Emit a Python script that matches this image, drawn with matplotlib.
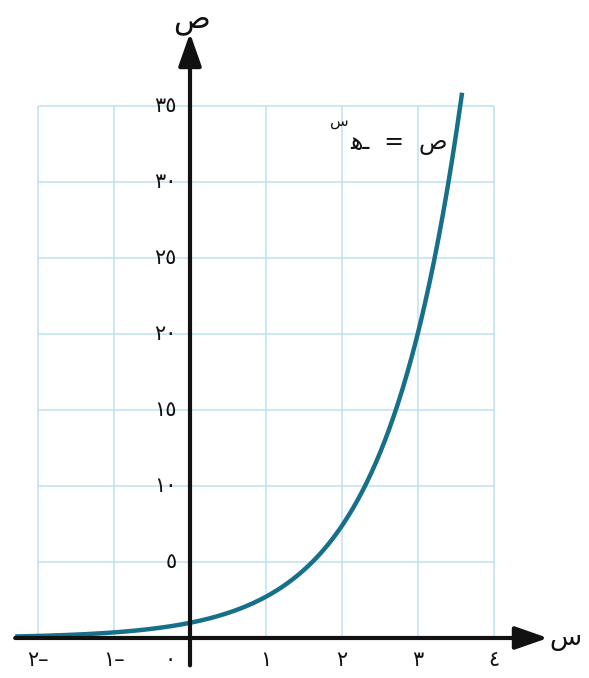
import numpy as np
import matplotlib
matplotlib.use("Agg")
import matplotlib.pyplot as plt

# Tick positions and their Arabic-Indic labels
x_ticks = [-2, -1, 0, 1, 2, 3, 4]
x_labels = ["٢–", "١–", "٠", "١", "٢", "٣", "٤"]
y_ticks = [5, 10, 15, 20, 25, 30, 35]
y_labels = ["٥", "١٠", "١٥", "٢٠", "٢٥", "٣٠", "٣٥"]

# Domain of the drawn curve y = e^x
x_start, x_end = -2.3, 3.58

grid_color = "#bfe0f0"
curve_color = "#17708a"
ink = "#111111"

fig = plt.figure(figsize=(5.89, 6.78), dpi=100, facecolor="white")
ax = fig.add_axes([0, 0, 1, 1])
ax.set_axis_off()
# one unit in x and 5 units in y are both 76 px
ax.set_xlim(-190 / 76, (589 - 190) / 76)
ax.set_ylim(-(678 - 638) / 76 * 5, 638 / 76 * 5)

# light blue grid
ax.vlines(x_ticks, 0, max(y_ticks), color=grid_color, lw=1.1, zorder=1)
ax.hlines(y_ticks, min(x_ticks), max(x_ticks), color=grid_color, lw=1.1, zorder=1)

# the curve
xs = np.linspace(x_start, x_end, 400)
ax.plot(xs, np.exp(xs), color=curve_color, lw=3.2, solid_capstyle="butt", zorder=3)

# axes with arrow heads
arrow = dict(arrowstyle="-|>,head_length=1.0,head_width=0.35", lw=3, color=ink,
             shrinkA=0, shrinkB=0, mutation_scale=20)
ax.annotate("", xy=(4.71, 0), xytext=(-2.3, 0), arrowprops=arrow, zorder=4)
ax.annotate("", xy=(0, 39.8), xytext=(0, -1.8), arrowprops=arrow, zorder=4)

# tick labels
for xv, lab in zip(x_ticks, x_labels):
    xp = xv if xv != 0 else -0.26
    ax.text(xp, -1.45, lab, ha="center", va="center", fontsize=15,
            family="DejaVu Sans", color=ink)
for yv, lab in zip(y_ticks, y_labels):
    ax.text(-0.17, yv, lab, ha="right", va="center", fontsize=15,
            family="DejaVu Sans", color=ink)

# axis names
ax.text(0.02, 40.6, "ص", ha="center", va="center", fontsize=22, color=ink)
ax.text(4.73, 0.0, "س", ha="left", va="center", fontsize=19, color=ink)

# equation label: ص = هـ^س
ax.text(3.39, 32.2, "\ufeeb\u0640  =  \u0635", ha="right", va="baseline",
        fontsize=17, color=ink)
ax.text(1.84, 33.7, "س", ha="left", va="baseline", fontsize=11, color=ink)

fig.savefig("out.png", dpi=100)
